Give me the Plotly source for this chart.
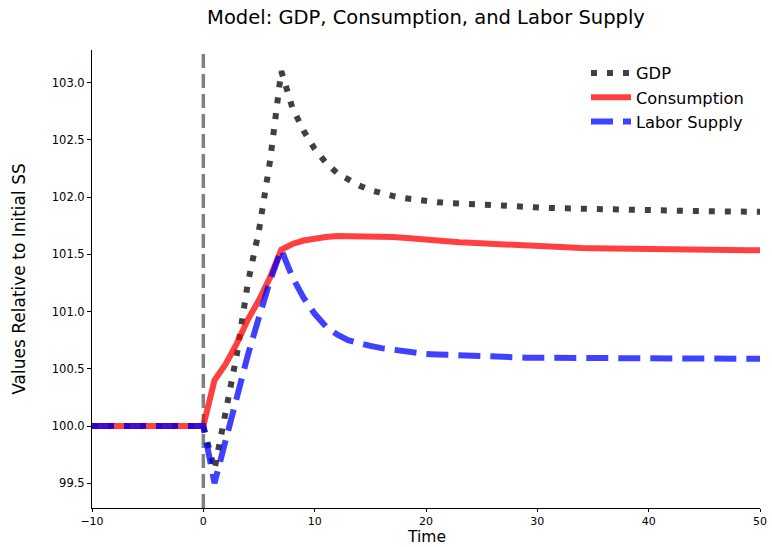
import plotly.graph_objects as go

time = list(range(-10, 51))

gdp = [
    100.0, 100.0, 100.0, 100.0, 100.0, 100.0, 100.0, 100.0, 100.0, 100.0,
    100.0, 99.62, 100.14, 100.62, 101.25, 101.71, 102.32, 103.10, 102.78, 102.58,
    102.42, 102.30, 102.21, 102.15, 102.10, 102.06, 102.03, 102.01, 101.99, 101.975,
    101.965, 101.955, 101.948, 101.942, 101.936, 101.931, 101.926, 101.921, 101.916, 101.912,
    101.908, 101.905, 101.902, 101.899, 101.897, 101.895, 101.893, 101.891, 101.889, 101.887,
    101.885, 101.883, 101.881, 101.879, 101.877, 101.876, 101.875, 101.874, 101.873, 101.872,
    101.871,
]

consumption = [
    100.0, 100.0, 100.0, 100.0, 100.0, 100.0, 100.0, 100.0, 100.0, 100.0,
    100.0, 100.40, 100.54, 100.72, 100.93, 101.10, 101.30, 101.54, 101.59, 101.62,
    101.64, 101.65, 101.66, 101.66, 101.66, 101.66, 101.655, 101.65, 101.645, 101.635,
    101.625, 101.615, 101.61, 101.605, 101.60, 101.595, 101.585, 101.578, 101.572, 101.568,
    101.565, 101.562, 101.559, 101.556, 101.554, 101.552, 101.550, 101.548, 101.546, 101.545,
    101.544, 101.543, 101.542, 101.541, 101.540, 101.539, 101.538, 101.537, 101.536, 101.536,
    101.535,
]

labor = [
    100.0, 100.0, 100.0, 100.0, 100.0, 100.0, 100.0, 100.0, 100.0, 100.0,
    100.0, 99.50, 99.88, 100.26, 100.62, 100.95, 101.27, 101.54, 101.30, 101.12,
    100.98, 100.87, 100.80, 100.75, 100.72, 100.70, 100.68, 100.665, 100.65, 100.64,
    100.63, 100.625, 100.62, 100.615, 100.61, 100.605, 100.60, 100.60, 100.598, 100.597,
    100.596, 100.595, 100.594, 100.594, 100.593, 100.593, 100.592, 100.592, 100.591, 100.591,
    100.590, 100.590, 100.590, 100.589, 100.589, 100.589, 100.588, 100.588, 100.588, 100.588,
    100.587,
]

x_ticks = [-10, 0, 10, 20, 30, 40, 50]
y_ticks = [99.5, 100.0, 100.5, 101.0, 101.5, 102.0, 102.5, 103.0]

FONT = "DejaVu Sans, sans-serif"

fig = go.Figure()
fig.add_trace(go.Scatter(
    x=time, y=gdp, mode="lines", name="GDP",
    line=dict(color="rgba(0,0,0,0.75)", width=6, dash="6px,10px"),
))
fig.add_trace(go.Scatter(
    x=time, y=consumption, mode="lines", name="Consumption",
    line=dict(color="rgba(255,0,0,0.75)", width=6),
))
fig.add_trace(go.Scatter(
    x=time, y=labor, mode="lines", name="Labor Supply",
    line=dict(color="rgba(0,0,255,0.75)", width=6, dash="22px,10px"),
))

fig.add_shape(
    type="line", x0=0, x1=0, y0=0, y1=1, xref="x", yref="paper",
    line=dict(color="rgb(128,128,128)", width=3.5, dash="14px,6px"),
    layer="below",
)

fig.add_annotation(
    text="Time", xref="paper", yref="paper", x=0.5, y=(508 - 547) / 458,
    xanchor="center", yanchor="bottom", showarrow=False, borderpad=0,
    font=dict(size=15.5, family=FONT, color="black"),
)

fig.update_layout(
    width=772, height=547,
    margin=dict(l=92, r=12, t=50, b=39),
    paper_bgcolor="white", plot_bgcolor="white",
    font=dict(family=FONT, color="black", size=11),
    title=dict(
        text="Model: GDP, Consumption, and Labor Supply",
        x=(426 / 772), xanchor="center", y=1 - 17 / 547, yanchor="middle",
        font=dict(size=19.5, family=FONT, color="black"),
    ),
    showlegend=True,
    legend=dict(
        x=0.7395, xanchor="left", y=0.987, yanchor="top",
        bgcolor="rgba(255,255,255,0)", borderwidth=0,
        font=dict(size=16.3, family=FONT, color="black"),
        itemwidth=40,
    ),
)

fig.update_xaxes(
    range=[-10, 50], tickmode="array", tickvals=x_ticks, automargin=False,
    showline=True, linecolor="black", linewidth=1, mirror=False,
    ticks="outside", ticklen=3, tickcolor="black", showgrid=False, zeroline=False,
    tickfont=dict(size=11, family=FONT),
)
fig.update_yaxes(
    range=[99.284, 103.284], tickmode="array", tickvals=y_ticks, tickformat=".1f",
    automargin=False,
    showline=True, linecolor="black", linewidth=1, mirror=False,
    ticks="outside", ticklen=4, tickcolor="black", showgrid=False, zeroline=False,
    tickfont=dict(size=11.5, family=FONT),
    title=dict(text="Values Relative to Initial SS", font=dict(size=17, family=FONT), standoff=21),
)

fig.write_html(
    "out.html",
    config={"displayModeBar": False},
    post_script="document.body.style.margin='0';document.body.style.padding='0';",
)
